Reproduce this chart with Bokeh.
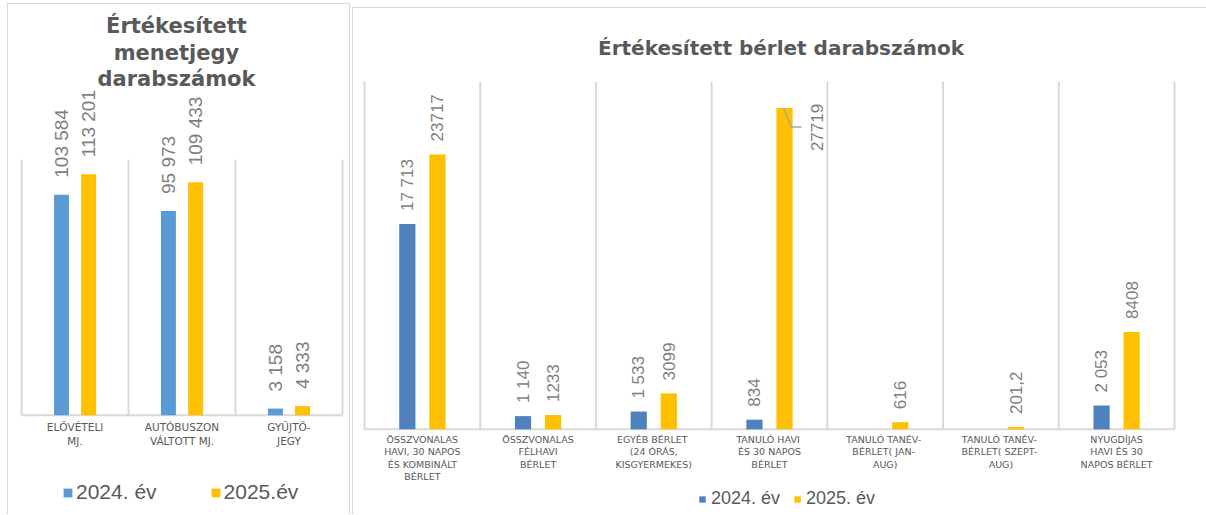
import math
from bokeh.plotting import figure
from bokeh.layouts import row
from bokeh.models import ColumnDataSource, Range1d, Legend, LegendItem
from bokeh.transform import dodge
from bokeh.embed import file_html
from bokeh.resources import INLINE
from bokeh.core.properties import value

# ---------------- data: menetjegy (left chart) ----------------
jegy_title = "Értékesített\nmenetjegy\ndarabszámok"
jegy_cats = ["ELŐVÉTELI\nMJ.", "AUTÓBUSZON\nVÁLTOTT MJ.", "GYŰJTŐ-\nJEGY"]
jegy_2024 = [103584, 95973, 3158]
jegy_2025 = [113201, 109433, 4333]
jegy_lbl_2024 = ["103 584", "95 973", "3 158"]
jegy_lbl_2025 = ["113 201", "109 433", "4 333"]
jegy_series = ["2024. év", "2025.év"]
jegy_ymax = 120000

# ---------------- data: bérlet (right chart) ----------------
berlet_title = "Értékesített bérlet darabszámok"
berlet_cats = [
    "ÖSSZVONALAS\nHAVI, 30 NAPOS\nÉS KOMBINÁLT\nBÉRLET",
    "ÖSSZVONALAS\nFÉLHAVI\nBÉRLET",
    "EGYÉB  BÉRLET\n(24 ÓRÁS,\nKISGYERMEKES)",
    "TANULÓ  HAVI\nÉS 30 NAPOS\nBÉRLET",
    "TANULÓ  TANÉV-\nBÉRLET(  JAN-\nAUG)",
    "TANULÓ  TANÉV-\nBÉRLET(  SZEPT-\nAUG)",
    "NYUGDÍJAS\nHAVI ÉS 30\nNAPOS BÉRLET",
]
berlet_2024 = [17713, 1140, 1533, 834, float("nan"), float("nan"), 2053]
berlet_2025 = [23717, 1233, 3099, 27719, 616, 201.2, 8408]
berlet_lbl_2024 = ["17 713", "1 140", "1 533", "834", "", "", "2 053"]
berlet_lbl_2025 = ["23717", "1233", "3099", "27719", "616", "201,2", "8408"]
berlet_series = ["2024. év", "2025. év"]
berlet_ymax = 30000

GRID = "#D9D9D9"
TXT = "#595959"
LBL = "#7F7F7F"
BLUE1 = "#5B9BD5"
BLUE2 = "#4F81BD"
YELLOW = "#FFC000"
NUMFONT = "Liberation Sans"
CATFONT = "DejaVu Sans"


class Frame:
    """Maps page pixels of the chart's plot area onto data space."""
    def __init__(self, content, area, n, ymax):
        self.cx0, self.cy0, self.cx1, self.cy1 = content
        self.ax0, self.ay0, self.ax1, self.ay1 = area
        self.n, self.ymax = n, ymax
        self.kx = (self.ax1 - self.ax0) / n
        self.ky = (self.ay1 - self.ay0) / ymax

    def x(self, px):
        return (px - self.ax0) / self.kx

    def y(self, py):
        return (self.ay1 - py) / self.ky

    def dx(self, d):
        return d / self.kx

    def dy(self, d):
        return d / self.ky

    def ranges(self):
        return (Range1d(self.x(self.cx0), self.x(self.cx1)),
                Range1d(self.y(self.cy1), self.y(self.cy0)))


def make_fig(fr, width, height, margin, border):
    xr, yr = fr.ranges()
    p = figure(width=width, height=height, x_range=xr, y_range=yr,
               output_backend="svg", toolbar_location=None, tools="",
               x_axis_location=None, y_axis_location=None,
               min_border=0, outline_line_color=None,
               background_fill_color="white", border_fill_color="white",
               margin=margin, styles=border)
    p.xgrid.visible = False
    p.ygrid.visible = False
    n = fr.n
    # category separators and baseline
    p.segment(x0=list(range(n + 1)), y0=[0] * (n + 1), x1=list(range(n + 1)),
              y1=[fr.ymax] * (n + 1), line_color=GRID, line_width=2)
    p.segment(x0=[0], y0=[0], x1=[n], y1=[0], line_color=GRID, line_width=2)
    return p


def add_cats(p, cats, size, offset, lh):
    src = ColumnDataSource(dict(x=[i + 0.5 for i in range(len(cats))], y=[0] * len(cats),
                                t=cats))
    p.text(x="x", y="y", text="t", source=src, text_align="center", text_baseline="top",
           text_font=value(CATFONT), text_font_size=size, text_color=TXT,
           y_offset=offset, text_line_height=lh)


# ================= left chart =================
fr1 = Frame((8, 4, 349, 514), (21, 159, 340, 414), 3, jegy_ymax)
p1 = make_fig(fr1, 343, 511, (3, 0, 0, 7),
              {"border-top": "1px solid #D9D9D9", "border-left": "1px solid #D9D9D9",
               "border-right": "1px solid #D9D9D9"})
add_cats(p1, jegy_cats, "10.5px", 6, 1.15)

src1 = ColumnDataSource(dict(x=[i + 0.5 for i in range(3)], a=jegy_2024, b=jegy_2025,
                             la=jegy_lbl_2024, lb=jegy_lbl_2025))
off1 = 0.127
r1a = p1.vbar(x=dodge("x", -off1, range=p1.x_range), top="a", width=0.14, source=src1,
              fill_color=BLUE1, line_color=None)
r1b = p1.vbar(x=dodge("x", off1, range=p1.x_range), top="b", width=0.14, source=src1,
              fill_color=YELLOW, line_color=None)
for col, lcol, o in (("a", "la", -off1), ("b", "lb", off1)):
    p1.text(x=dodge("x", o, range=p1.x_range), y=col, text=lcol, source=src1,
            angle=math.pi / 2, text_align="left", text_baseline="middle",
            text_font=value(NUMFONT), text_font_size="19px", text_color=LBL, y_offset=-17)

p1.text(x=[fr1.x(175)], y=[fr1.y(52)], text=[jegy_title], text_align="center",
        text_baseline="middle", text_font=value(CATFONT), text_font_size="21px",
        text_font_style="bold", text_color=TXT, text_line_height=1.12)

leg1 = Legend(items=[LegendItem(label=jegy_series[0], renderers=[r1a]),
                     LegendItem(label=jegy_series[1], renderers=[r1b])],
              location=(54, 11), orientation="horizontal",
              label_text_font=NUMFONT, label_text_font_size="21px", label_text_color=TXT,
              glyph_width=11, glyph_height=11, label_standoff=3, spacing=53,
              padding=0, margin=0, border_line_color=None, background_fill_alpha=0)
p1.add_layout(leg1)

# ================= right chart =================
fr2 = Frame((353, 8, 1206, 514), (364, 81, 1173, 428), 7, berlet_ymax)
p2 = make_fig(fr2, 854, 507, (7, 0, 0, 0),
              {"border-top": "1px solid #D9D9D9", "border-left": "1px solid #D9D9D9"})
add_cats(p2, berlet_cats, "9.5px", 5, 1.1)

off2 = 0.13
lead = [(v == v and v > 26000) for v in berlet_2025]
src2 = ColumnDataSource(dict(x=[i + 0.5 for i in range(7)], a=berlet_2024, b=berlet_2025,
                             la=berlet_lbl_2024, lb=berlet_lbl_2025,
                             xo=[32 if f else 0 for f in lead],
                             yo=[43 if f else -13 for f in lead]))
r2a = p2.vbar(x=dodge("x", -off2, range=p2.x_range), top="a", width=0.14, source=src2,
              fill_color=BLUE2, line_color=None)
r2b = p2.vbar(x=dodge("x", off2, range=p2.x_range), top="b", width=0.14, source=src2,
              fill_color=YELLOW, line_color=None)
p2.text(x=dodge("x", -off2, range=p2.x_range), y="a", text="la", source=src2,
        angle=math.pi / 2, text_align="left", text_baseline="middle",
        text_font=value(NUMFONT), text_font_size="17px", text_color=LBL, y_offset=-13)
p2.text(x=dodge("x", off2, range=p2.x_range), y="b", text="lb", source=src2,
        angle=math.pi / 2, text_align="left", text_baseline="middle",
        text_font=value(NUMFONT), text_font_size="17px", text_color=LBL,
        x_offset="xo", y_offset="yo")

# leader line for the label moved beside the tallest bar
for i, f in enumerate(lead):
    if f:
        bx = i + 0.5 + off2
        v = berlet_2025[i]
        p2.line(x=[bx - fr2.dx(1), bx + fr2.dx(7), bx + fr2.dx(17)],
                y=[v, v - fr2.dy(19), v - fr2.dy(19)], line_color="#A6A6A6", line_width=1.5)

p2.text(x=[fr2.x(780)], y=[fr2.y(47)], text=[berlet_title], text_align="center",
        text_baseline="middle", text_font=value(CATFONT), text_font_size="20px",
        text_font_style="bold", text_color=TXT)

leg2 = Legend(items=[LegendItem(label=berlet_series[0], renderers=[r2a]),
                     LegendItem(label=berlet_series[1], renderers=[r2b])],
              location=(345, 6), orientation="horizontal",
              label_text_font=NUMFONT, label_text_font_size="18px", label_text_color=TXT,
              glyph_width=8, glyph_height=8, label_standoff=5, spacing=13,
              padding=0, margin=0, border_line_color=None, background_fill_alpha=0)
p2.add_layout(leg2)

layout = row(p1, p2, spacing=2)
open("out.html", "w").write(file_html(layout, INLINE))
